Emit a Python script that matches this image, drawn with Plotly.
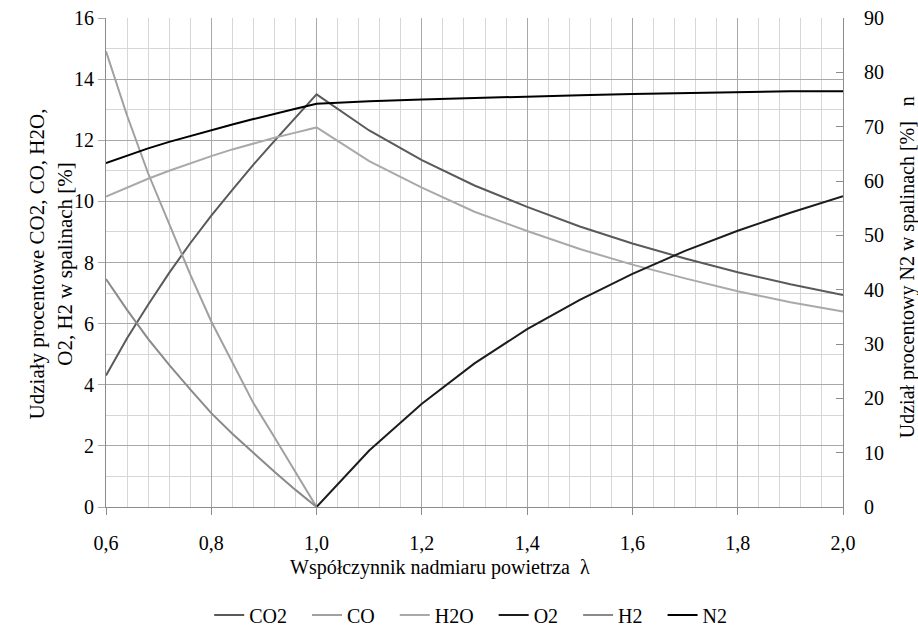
import plotly.graph_objects as go

# ---- data ----
lam_rich = [0.6, 0.64, 0.68, 0.72, 0.76, 0.8, 0.84, 0.88, 0.92, 0.96, 1.0]
lam_lean = [1.0, 1.1, 1.2, 1.3, 1.4, 1.5, 1.6, 1.7, 1.8, 1.9, 2.0]
lam_all = lam_rich + lam_lean[1:]

co2 = [4.30, 5.52, 6.62, 7.66, 8.63, 9.53, 10.38, 11.20, 11.98, 12.75, 13.50,
       12.32, 11.35, 10.52, 9.82, 9.18, 8.62, 8.13, 7.68, 7.29, 6.94]
h2o = [10.16, 10.45, 10.74, 11.00, 11.25, 11.48, 11.70, 11.90, 12.08, 12.25, 12.42,
       11.32, 10.45, 9.66, 9.03, 8.44, 7.93, 7.48, 7.06, 6.70, 6.40]
n2 = [63.3, 64.7, 66.0, 67.2, 68.3, 69.4, 70.4, 71.4, 72.4, 73.3, 74.2,
      74.7, 75.0, 75.3, 75.6, 75.8, 76.0, 76.2, 76.4, 76.5, 76.5]
co = [14.91, 12.81, 10.92, 9.24, 7.61, 6.07, 4.73, 3.40, 2.28, 1.15, 0.0]
h2 = [7.46, 6.45, 5.50, 4.65, 3.85, 3.07, 2.40, 1.76, 1.15, 0.56, 0.0]
o2 = [0.0, 1.85, 3.38, 4.70, 5.82, 6.78, 7.63, 8.38, 9.04, 9.63, 10.17]

x_ticks = [0.6, 0.8, 1.0, 1.2, 1.4, 1.6, 1.8, 2.0]
y_ticks = [0, 2, 4, 6, 8, 10, 12, 14, 16]
y2_ticks = [0, 10, 20, 30, 40, 50, 60, 70, 80, 90]

FONT = "Liberation Serif"
TICK_FS = 20
LEG_FS = 20
NB = "&nbsp;"

fig = go.Figure()
series = [
    ("CO2", lam_all, co2, "#5a5a5a", "y"),
    ("CO", lam_rich, co, "#a0a0a0", "y"),
    ("H2O", lam_all, h2o, "#a9a9a9", "y"),
    ("O2", lam_lean, o2, "#1c1c1c", "y"),
    ("H2", lam_rich, h2, "#8a8a8a", "y"),
    ("N2", lam_all, n2, "#000000", "y2"),
]
for name, xs, ys, col, ax in series:
    fig.add_trace(go.Scatter(x=xs, y=ys, name=name + NB * 3, mode="lines",
                             line=dict(color=col, width=2), yaxis=ax))

fig.update_layout(
    width=918, height=626,
    margin=dict(l=106, r=75, t=18, b=119, autoexpand=False),
    paper_bgcolor="white", plot_bgcolor="white",
    font=dict(family=FONT, size=TICK_FS, color="black"),
    separators=", ",
    showlegend=True,
    legend=dict(orientation="h", x=0.505, xanchor="center", y=-0.221, yanchor="middle",
                font=dict(family=FONT, size=LEG_FS, color="black"), itemwidth=30, tracegroupgap=0),
    xaxis=dict(range=[0.6, 2.0], tickvals=x_ticks, tickformat=".1f",
               showgrid=True, gridcolor="#a8a8a8", gridwidth=1,
               minor=dict(dtick=0.04, tick0=0.6, showgrid=True, gridcolor="#d6d6d6", gridwidth=1),
               showline=True, linecolor="#8c8c8c", linewidth=1,
               ticks="outside", ticklen=7, tickcolor="#8c8c8c", ticklabelstandoff=11,
               zeroline=False, tickfont=dict(family=FONT, size=TICK_FS, color="black")),
    yaxis=dict(range=[0, 16], tickvals=y_ticks,
               showgrid=True, gridcolor="#a8a8a8", gridwidth=1,
               minor=dict(dtick=1, showgrid=True, gridcolor="#d6d6d6", gridwidth=1),
               showline=True, linecolor="#8c8c8c", linewidth=1,
               ticks="outside", ticklen=7, tickcolor="#a8a8a8",
               zeroline=False, tickfont=dict(family=FONT, size=TICK_FS, color="black")),
    yaxis2=dict(range=[0, 90], tickvals=y2_ticks, overlaying="y", side="right",
                showgrid=False, showline=True, linecolor="#8c8c8c", linewidth=1,
                ticks="inside", ticklen=7, tickcolor="#8c8c8c", ticklabelstandoff=16,
                zeroline=False, tickfont=dict(family=FONT, size=TICK_FS, color="black")),
)

fig.add_annotation(text="Współczynnik nadmiaru powietrza" + NB * 2 + "λ", xref="paper", yref="paper",
                   x=0.453, y=-0.1247, xanchor="center", yanchor="middle", showarrow=False,
                   font=dict(family=FONT, size=20))
fig.add_annotation(text="Udziały procentowe CO2, CO, H2O,<br>O2, H2 w spalinach [%]",
                   xref="paper", yref="paper", x=-0.074, y=0.497, xanchor="center", yanchor="middle",
                   textangle=-90, showarrow=False, font=dict(family=FONT, size=21))
fig.add_annotation(text="Udział procentowy N2 w spalinach [%]" + NB * 3 + "n",
                   xref="paper", yref="paper", x=1.088, y=0.49, xanchor="center", yanchor="middle",
                   textangle=-90, showarrow=False, font=dict(family=FONT, size=20))

fig.write_html("out.html")
